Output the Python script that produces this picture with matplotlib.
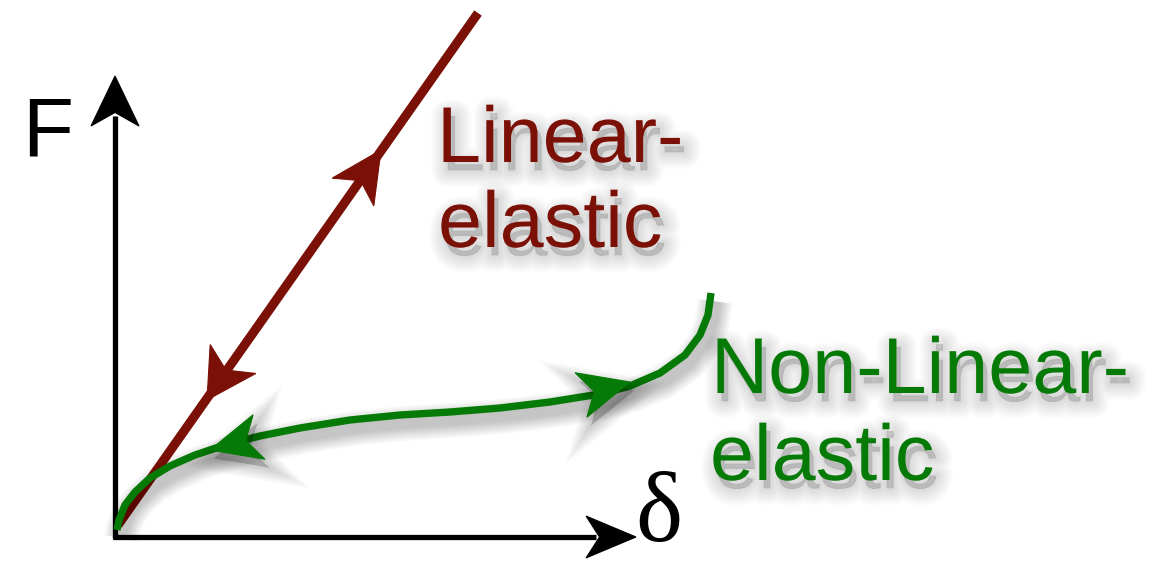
import numpy as np
import matplotlib
matplotlib.use("Agg")
import matplotlib.pyplot as plt
import matplotlib.patheffects as pe
from matplotlib.patches import Polygon

W, H = 1154, 562
RED = "#7a1006"
GREEN = "#067a06"

# Diagram geometry (picture pixels, y grows downward)
AXIS_ORIGIN = (115, 537)
Y_AXIS_TIP = (115, 76)
X_AXIS_TIP = (636, 537)

RED_X = [118, 478]
RED_Y = [525, 13]

GREEN_X = [117, 119, 125, 135, 150, 170, 195, 225, 260, 300, 350, 400,
           450, 500, 550, 600, 630, 660, 685, 700, 708, 711]
GREEN_Y = [530, 520, 505, 492, 478, 466, 455, 445, 436, 428, 420, 415,
           412, 408, 402, 394, 386, 373, 355, 335, 315, 293]

# arrowheads: tip x, tip y, base x, base y, half width
AXIS_HEADS = [(115, 76, 115, 126, 24), (636, 537, 586, 537, 21)]
RED_HEADS = [(381, 150, 353, 192, 25), (207, 400, 233, 359, 27)]
GREEN_HEADS = [(630, 382, 581, 395, 23), (210, 450, 259, 437, 23)]

LABELS = [("Linear-", 437, 162, RED), ("elastic", 438, 247, RED),
          ("Non-Linear-", 711, 393, GREEN), ("elastic", 710, 480, GREEN)]


def line_shadow(lw):
    fx = [pe.SimpleLineShadow(offset=(3, -6), shadow_color="k", alpha=0.022,
                              linewidth=lw + 2.0 * k) for k in range(10, 0, -1)]
    return fx + [pe.Normal()]


def patch_shadow(a=0.012, n=12):
    fx = [pe.SimplePatchShadow(offset=(3, -6), shadow_rgbFace="k", alpha=a,
                               linewidth=2.0 * k) for k in range(n, 0, -1)]
    return fx + [pe.Normal()]


def head(ax, tx, ty, bx, by, hw, color, shadow=False):
    tip = np.array([tx, ty], float)
    base = np.array([bx, by], float)
    d = tip - base
    length = np.hypot(*d)
    u = d / length
    n = np.array([-u[1], u[0]])
    notch = base + u * 0.27 * length
    pts = [tip, base + n * hw, notch, base - n * hw]
    p = Polygon(pts, closed=True, facecolor=color, edgecolor=color,
                linewidth=0.8, zorder=4)
    if shadow:
        p.set_path_effects(patch_shadow(0.02, 10))
    ax.add_patch(p)


fig = plt.figure(figsize=(W / 100, H / 100), dpi=100)
ax = fig.add_axes([0, 0, 1, 1])
ax.set_xlim(0, W)
ax.set_ylim(H, 0)
ax.axis("off")

# axes
ox, oy = AXIS_ORIGIN
ax.plot([ox, ox], [oy + 2, Y_AXIS_TIP[1] + 40], color="k", lw=3.8,
        solid_capstyle="butt", zorder=3)
ax.plot([ox - 2, X_AXIS_TIP[0] - 40], [oy, oy], color="k", lw=3.8,
        solid_capstyle="butt", zorder=3)
for h in AXIS_HEADS:
    head(ax, *h, "k")

# linear-elastic line
ax.plot(RED_X, RED_Y, color=RED, lw=6.6, solid_capstyle="butt", zorder=2)
for h in RED_HEADS:
    head(ax, *h, RED)

# non-linear-elastic curve
ax.plot(GREEN_X, GREEN_Y, color=GREEN, lw=5.3, solid_capstyle="butt",
        zorder=3, path_effects=line_shadow(5.3))
for h in GREEN_HEADS:
    head(ax, *h, GREEN, shadow=True)

# labels
for txt, x, y, c in LABELS:
    ax.text(x, y, txt, color=c, fontsize=57, family="Liberation Sans",
            ha="left", va="baseline", zorder=5, path_effects=patch_shadow())

ax.text(22, 155, "F", color="k", fontsize=60, family="Liberation Sans",
        ha="left", va="baseline", zorder=5)
ax.text(635, 541, "δ", color="k", fontsize=72, family="Liberation Serif",
        ha="left", va="baseline", zorder=5)

fig.savefig("out.png", dpi=100)
